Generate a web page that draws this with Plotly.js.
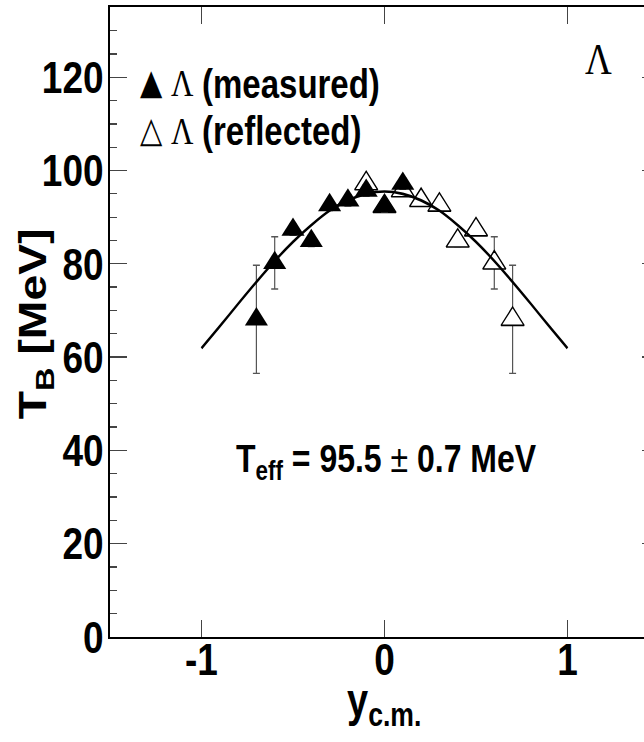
<!DOCTYPE html>
<html><head><meta charset="utf-8">
<script src="https://cdn.plot.ly/plotly-3.0.1.min.js"></script>
<style>
html,body{margin:0;padding:0;overflow:hidden;background:#fff;width:644px;height:742px}
#chart{width:680px;height:608px;transform:scaleY(1.22);transform-origin:0 0}
</style>
</head><body><div id="chart"></div>
<script>
// measured Lambda points (rapidity, inverse slope T_B in MeV, error)
const measuredY   = [-0.7, -0.6, -0.5, -0.4, -0.3, -0.2, -0.1, 0.0, 0.1];
const measuredT   = [68.1, 80.2, 87.3, 84.9, 92.6, 93.6, 95.7, 92.3, 97.2];
const measuredErr = [11.6, 5.6, 1.2, 1.2, 1.2, 1.2, 1.2, 1.2, 1.2];
// reflected points
const reflectedY   = [0.7, 0.6, 0.5, 0.4, 0.3, 0.2, 0.1, 0.0, -0.1];
const reflectedT   = [68.1, 80.2, 87.3, 84.9, 92.6, 93.6, 95.7, 92.3, 97.2];
const reflectedErr = [11.6, 5.6, 1.2, 1.2, 1.2, 1.2, 1.2, 1.2, 1.2];
// fit curve
const fitY = [-1.0,-0.9,-0.8,-0.7,-0.6,-0.5,-0.4,-0.3,-0.2,-0.1,0.0,0.1,0.2,0.3,0.4,0.5,0.6,0.7,0.8,0.9,1.0];
const fitT = [61.9,66.6,71.4,76.1,80.6,84.7,88.3,91.4,93.6,95.0,95.5,95.0,93.6,91.4,88.3,84.7,80.6,76.1,71.4,66.6,61.9];
// ticks and labels
const xTicks = [-1, 0, 1];
const yTicks = [0, 20, 40, 60, 80, 100, 120];
const xTitle = 'y<sub>c.m.</sub>';
const yTitle = 'T<sub>B</sub> [MeV]';
const legendMeasured = '(measured)';
const legendReflected = '(reflected)';
const particle = 'Λ';
const fitLabel = 'T<sub>eff</sub> = 95.5 <span style="font-weight:400">±</span> 0.7 MeV';

const SANS = 'Liberation Sans, Arial, Helvetica, sans-serif';
const SERIF = 'Liberation Serif, Times New Roman, serif';

const traces = [
  {x: reflectedY, y: reflectedT, type: 'scatter', mode: 'markers',
   marker: {symbol: 'triangle-up', size: 20, color: 'white', line: {color: 'black', width: 1.3}},
   error_y: {type: 'data', array: reflectedErr, visible: true, color: '#555', thickness: 1.2, width: 3.5},
   showlegend: false},
  {x: measuredY, y: measuredT, type: 'scatter', mode: 'markers',
   marker: {symbol: 'triangle-up', size: 20, color: 'black', line: {color: 'black', width: 0}},
   error_y: {type: 'data', array: measuredErr, visible: true, color: '#555', thickness: 1.2, width: 3.5},
   showlegend: false},
  {x: fitY, y: fitT, type: 'scatter', mode: 'lines',
   line: {color: 'black', width: 2.2, shape: 'spline'}, showlegend: false}
];

// paper coordinates from target pixel positions (plot area x 110..659, y 7..637 after stretch)
function px(x){ return (x - 110) / 549; }
function py(y){ return (637 - y) / 630; }

const annotations = [
  {text: yTitle, textangle: -90, x: px(36), y: py(324), xref: 'paper', yref: 'paper', showarrow: false,
   xanchor: 'center', yanchor: 'middle', font: {family: SANS, size: 38, weight: 700, color: 'black'}},
  {text: xTitle, x: px(384), y: py(704), xref: 'paper', yref: 'paper', showarrow: false,
   xanchor: 'center', yanchor: 'middle', font: {family: SANS, size: 38, weight: 700, color: 'black'}},
  {text: '▲', x: px(151.5), y: py(81), xref: 'paper', yref: 'paper', showarrow: false,
   xanchor: 'center', yanchor: 'middle', font: {family: 'DejaVu Sans', size: 29, weight: 400, color: 'black'}},
  {text: particle, x: px(182.5), y: py(83), xref: 'paper', yref: 'paper', showarrow: false,
   xanchor: 'center', yanchor: 'middle', font: {family: SERIF, size: 31, weight: 400, color: 'black'}},
  {text: legendMeasured, x: px(200), y: py(83), xref: 'paper', yref: 'paper', showarrow: false,
   xanchor: 'left', yanchor: 'middle', font: {family: SANS, size: 33, weight: 700, color: 'black'}},
  {text: '△', x: px(151.5), y: py(129), xref: 'paper', yref: 'paper', showarrow: false,
   xanchor: 'center', yanchor: 'middle', font: {family: 'DejaVu Sans', size: 29, weight: 400, color: 'black'}},
  {text: particle, x: px(182.5), y: py(131), xref: 'paper', yref: 'paper', showarrow: false,
   xanchor: 'center', yanchor: 'middle', font: {family: SERIF, size: 31, weight: 400, color: 'black'}},
  {text: legendReflected, x: px(200), y: py(131), xref: 'paper', yref: 'paper', showarrow: false,
   xanchor: 'left', yanchor: 'middle', font: {family: SANS, size: 33, weight: 700, color: 'black'}},
  {text: particle, x: px(598), y: py(59), xref: 'paper', yref: 'paper', showarrow: false,
   xanchor: 'center', yanchor: 'middle', font: {family: SERIF, size: 37, weight: 400, color: 'black'}},
  {text: fitLabel, x: px(386), y: py(462), xref: 'paper', yref: 'paper', showarrow: false,
   xanchor: 'center', yanchor: 'middle', font: {family: SANS, size: 32, weight: 700, color: 'black'}}
];

const layout = {
  width: 680, height: 608,
  margin: {l: 110, r: 21, t: 6, b: 86},
  paper_bgcolor: 'white', plot_bgcolor: 'white',
  font: {family: SANS, size: 37, weight: 700, color: 'black'},
  showlegend: false,
  xaxis: {
    range: [-1.5, 1.5], tickvals: xTicks, ticktext: xTicks.map(String),
    ticks: 'inside', ticklen: 14, tickwidth: 1, tickcolor: '#444',
    showline: true, linecolor: 'black', linewidth: 1.7, mirror: 'ticks',
    showgrid: false, zeroline: false, ticklabelstandoff: -15,
    tickfont: {family: SANS, size: 37, weight: 700, color: 'black'}
  },
  yaxis: {
    range: [0, 135], tickvals: yTicks, ticktext: yTicks.map(String),
    ticks: 'inside', ticklen: 17, tickwidth: 1, tickcolor: '#444',
    minor: {dtick: 5, ticks: 'inside', ticklen: 7, tickwidth: 1, tickcolor: '#444'},
    showline: true, linecolor: 'black', linewidth: 2, mirror: 'ticks',
    showgrid: false, zeroline: false, ticklabelstandoff: -3,
    tickfont: {family: SANS, size: 37, weight: 700, color: 'black'}
  },
  annotations: annotations
};

Plotly.newPlot('chart', traces, layout, {displayModeBar: false, staticPlot: true});
</script>
</body></html>
